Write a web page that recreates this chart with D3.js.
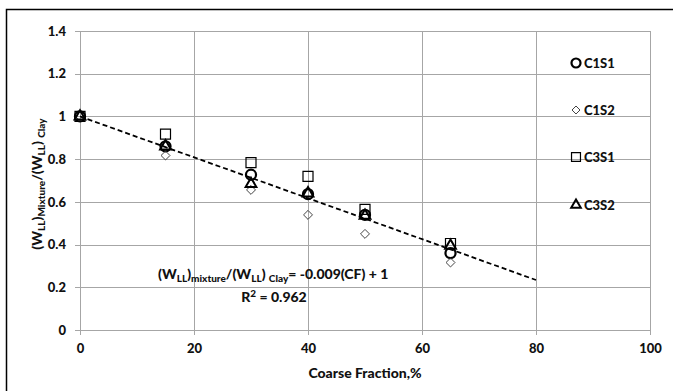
<!DOCTYPE html>
<html>
<head>
<meta charset="utf-8">
<script src="https://cdn.jsdelivr.net/npm/d3@7"></script>
<style>
  body { margin: 0; background: #fff; }
  text { font-family: Lato, "Open Sans", sans-serif; font-weight: 900; fill: #111; }
  .grid line { stroke: #a6a6a6; stroke-width: 1; }
</style>
</head>
<body>
<div id="chart"></div>
<script>
// coarse fraction, %
const coarseFraction = [0, 15, 30, 40, 50, 65];
// (W_LL)mixture / (W_LL)clay
const c1s1 = [1.0, 0.86, 0.727, 0.636, 0.539, 0.36];
const c1s2 = [1.0, 0.817, 0.656, 0.539, 0.45, 0.316];
const c3s1 = [1.0, 0.917, 0.784, 0.719, 0.565, 0.405];
const c3s2 = [1.0, 0.86, 0.684, 0.64, 0.535, 0.395];
const seriesNames = ["C1S1", "C1S2", "C3S1", "C3S2"];
// linear trend line drawn from 0 to 80
const trendX = [0, 80];
const trendY = [1.0, 0.234];
const xTicks = [0, 20, 40, 60, 80, 100];
const yTicks = [0, 0.2, 0.4, 0.6, 0.8, 1, 1.2, 1.4];

const svg = d3.select("#chart").append("svg")
    .attr("width", 673)
    .attr("height", 391);

const margin = {top: 31, right: 23, bottom: 61, left: 80};
const width = 673 - margin.left - margin.right;
const height = 391 - margin.top - margin.bottom;

// outer frame (only top and left edges are visible)
svg.append("path")
    .attr("d", "M6.5,391V9.5H673")
    .attr("fill", "none")
    .attr("stroke", "#000")
    .attr("stroke-width", 1.5);

const g = svg.append("g").attr("transform", "translate(" + margin.left + "," + margin.top + ")");

const x = d3.scaleLinear().domain([0, 100]).range([0, width]);
const y = d3.scaleLinear().domain([0, 1.4]).range([height, 0]);

// grid
g.append("g")
    .attr("class", "grid")
    .selectAll("line.h")
    .data(yTicks)
    .enter().append("line")
        .attr("x1", -5)
        .attr("x2", width)
        .attr("y1", d => Math.round(y(d)) + 0.5)
        .attr("y2", d => Math.round(y(d)) + 0.5);

g.append("g")
    .attr("class", "grid")
    .selectAll("line.v")
    .data(xTicks)
    .enter().append("line")
        .attr("x1", d => Math.round(x(d)) + 0.5)
        .attr("x2", d => Math.round(x(d)) + 0.5)
        .attr("y1", 0)
        .attr("y2", height + 5);

// axes labels
const yAxis = g.append("g")
    .call(d3.axisLeft(y).tickValues(yTicks).tickSize(0).tickPadding(14).tickFormat(d3.format("")));
yAxis.select(".domain").remove();
yAxis.selectAll("text").style("font-size", "13px");

const xAxis = g.append("g")
    .attr("transform", "translate(0," + height + ")")
    .call(d3.axisBottom(x).tickValues(xTicks).tickSize(0).tickPadding(14));
xAxis.select(".domain").remove();
xAxis.selectAll("text").style("font-size", "13px");

// trend line
const line = d3.line()
    .x((d, i) => x(trendX[i]))
    .y(d => y(d));

g.append("path")
    .datum(trendY)
    .attr("fill", "none")
    .attr("stroke", "#000")
    .attr("stroke-width", 1.8)
    .attr("stroke-dasharray", "5,3")
    .attr("d", line);

// square diamond (d3's diamond is too tall)
const squareDiamond = {
    draw(context, size) {
        const r = Math.sqrt(size / 2);
        context.moveTo(0, -r);
        context.lineTo(r, 0);
        context.lineTo(0, r);
        context.lineTo(-r, 0);
        context.closePath();
    }
};

// marker styles
const markers = {
    C1S1: {type: d3.symbolCircle, size: 80, stroke: "#000", sw: 2.2},
    C1S2: {type: squareDiamond, size: 40, stroke: "#444", sw: 1},
    C3S1: {type: d3.symbolSquare, size: 100, stroke: "#000", sw: 1.2},
    C3S2: {type: d3.symbolTriangle, size: 50, stroke: "#000", sw: 2}
};
const seriesValues = [c1s1, c1s2, c3s1, c3s2];

seriesNames.forEach((name, si) => {
    const m = markers[name];
    const sym = d3.symbol().type(m.type).size(m.size);
    g.selectAll("path.s" + si)
        .data(seriesValues[si])
        .enter().append("path")
            .attr("class", "s" + si)
            .attr("transform", (d, i) => "translate(" + x(coarseFraction[i]) + "," + y(d) + ")")
            .attr("d", sym)
            .attr("fill", "none")
            .attr("stroke", m.stroke)
            .attr("stroke-width", m.sw);
});

// legend
const legendY = [63, 110, 157, 205];
const legend = svg.append("g");
seriesNames.forEach((name, i) => {
    const m = markers[name];
    legend.append("path")
        .attr("transform", "translate(576," + legendY[i] + ")")
        .attr("d", d3.symbol().type(m.type).size(m.size * 0.8))
        .attr("fill", "none")
        .attr("stroke", m.stroke)
        .attr("stroke-width", m.sw);
    legend.append("text")
        .attr("x", 584)
        .attr("y", legendY[i])
        .attr("dy", "0.35em")
        .style("font-size", "13px")
        .text(name);
});

// axis titles
svg.append("text")
    .attr("x", margin.left + width / 2)
    .attr("y", 378)
    .attr("text-anchor", "middle")
    .style("font-size", "14px")
    .text("Coarse Fraction,%");

// rich text with sub/superscripts
const rich = (sel, parts) => {
    let shift = 0;
    parts.forEach(p => {
        const want = p.sub ? 3 : p.sup ? -5 : 0;
        sel.append("tspan")
            .attr("dy", want - shift)
            .style("font-size", (p.sub || p.sup) ? "10px" : null)
            .text(p.t);
        shift = want;
    });
};

const yTitle = svg.append("text")
    .attr("transform", "translate(42,184) rotate(-90)")
    .attr("text-anchor", "middle")
    .style("font-size", "14px");
rich(yTitle, [
    {t: "(W"}, {t: "LL", sub: true}, {t: ")"}, {t: "Mixture", sub: true},
    {t: "/(W"}, {t: "LL", sub: true}, {t: ") "}, {t: "Clay", sub: true}
]);

const eq = svg.append("text")
    .attr("x", 158)
    .attr("y", 279)
    .style("font-size", "14px");
rich(eq, [
    {t: "(W"}, {t: "LL", sub: true}, {t: ")"}, {t: "mixture", sub: true},
    {t: "/(W"}, {t: "LL", sub: true}, {t: ") "}, {t: "Clay", sub: true},
    {t: "= -0.009(CF) + 1"}
]);

const r2 = svg.append("text")
    .attr("x", 274)
    .attr("y", 302)
    .attr("text-anchor", "middle")
    .style("font-size", "14px");
rich(r2, [{t: "R"}, {t: "2", sup: true}, {t: " = 0.962"}]);
</script>
</body>
</html>
